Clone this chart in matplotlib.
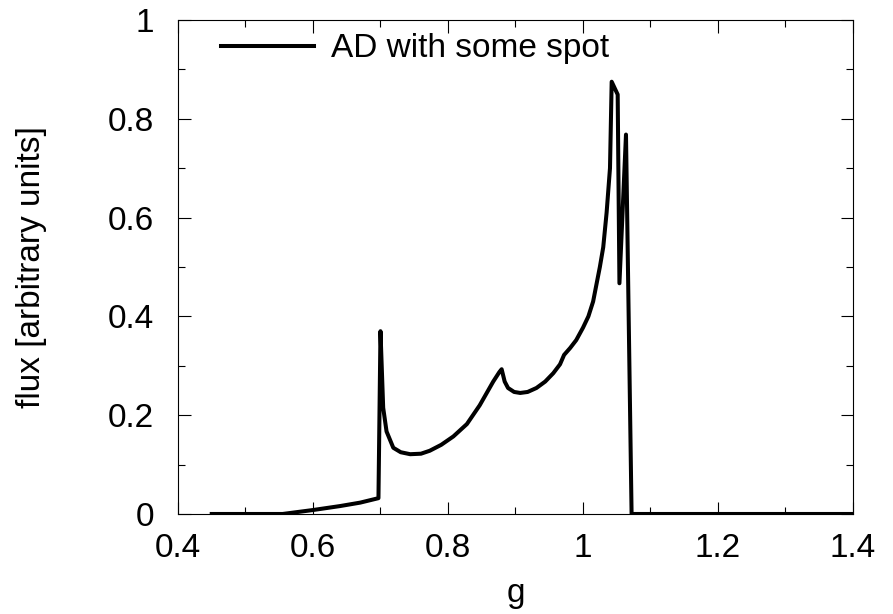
import numpy as np
import matplotlib.pyplot as plt
from matplotlib.ticker import MultipleLocator

plt.rcParams.update({"font.family": ['Liberation Sans', 'DejaVu Sans']})

# flux profile
g = [0.45, 0.555, 0.60, 0.64, 0.67, 0.697, 0.700, 0.704, 0.709, 0.719, 0.730,
     0.744, 0.760, 0.773, 0.790, 0.808, 0.828, 0.847, 0.867, 0.876, 0.8795,
     0.884, 0.889, 0.898, 0.907, 0.918, 0.931, 0.944, 0.956, 0.966, 0.972,
     0.981, 0.990, 1.000, 1.008, 1.015, 1.025, 1.030, 1.035, 1.040, 1.0425,
     1.0514, 1.054, 1.0637, 1.072, 1.40]
flux = [0.0, 0.0, 0.008, 0.016, 0.023, 0.032, 0.37, 0.215, 0.167, 0.134, 0.125,
        0.121, 0.122, 0.128, 0.140, 0.157, 0.182, 0.220, 0.268, 0.287, 0.293,
        0.268, 0.255, 0.247, 0.245, 0.247, 0.255, 0.268, 0.285, 0.303, 0.322,
        0.336, 0.352, 0.377, 0.400, 0.430, 0.500, 0.540, 0.610, 0.700, 0.875,
        0.849, 0.467, 0.768, 0.0, 0.0]

fig = plt.figure(figsize=(8.93, 6.14), dpi=100)
ax = fig.add_axes([0.1993, 0.1629, 0.7559, 0.8046])

ax.plot(g, flux, color='k', lw=2.9, label='AD with some spot')

ax.set_xlim(0.4, 1.4)
ax.set_ylim(0, 1)
ax.xaxis.set_major_locator(MultipleLocator(0.2))
ax.xaxis.set_minor_locator(MultipleLocator(0.1))
ax.yaxis.set_major_locator(MultipleLocator(0.2))
ax.yaxis.set_minor_locator(MultipleLocator(0.1))
fmt = plt.FuncFormatter(lambda v, p: '%g' % round(v, 2))
ax.xaxis.set_major_formatter(fmt)
ax.yaxis.set_major_formatter(fmt)
ax.tick_params(which='both', direction='in', top=True, right=True, labelsize=24)
ax.tick_params(axis='x', pad=14)
ax.tick_params(axis='y', pad=17)
ax.tick_params(which='major', length=9, width=0.8)
ax.tick_params(which='minor', length=5, width=0.8)

ax.set_xlabel('g', fontsize=24, labelpad=10)
ax.set_ylabel('flux [arbitrary units]', fontsize=24, labelpad=44)

ax.legend(loc='upper left', frameon=False, fontsize=24, handlelength=2.8,
          handletextpad=0.5, borderaxespad=0.0, bbox_to_anchor=(0.044, 1.0))

fig.savefig('out.png', dpi=100)
